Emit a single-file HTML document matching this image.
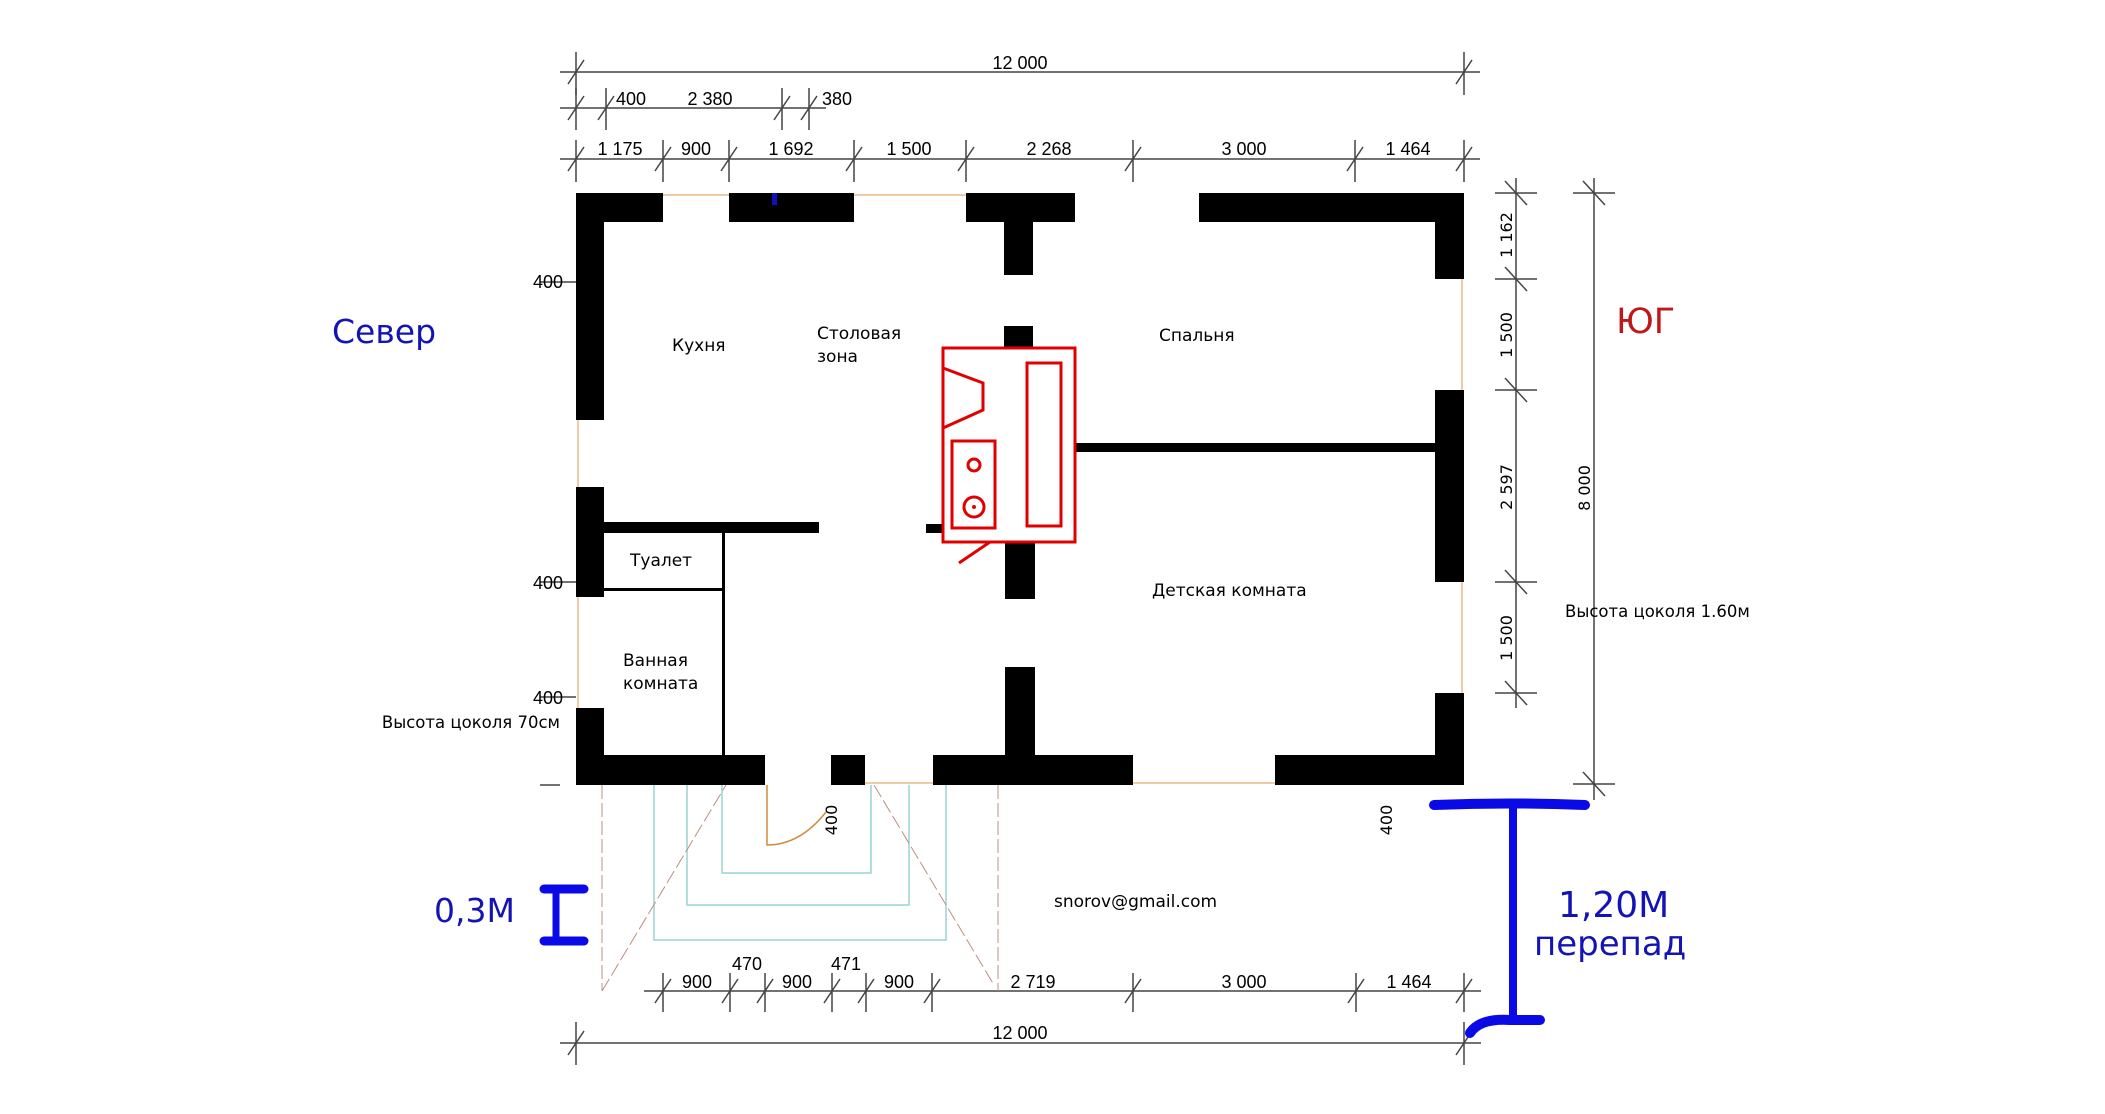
<!DOCTYPE html>
<html><head><meta charset="utf-8"><style>
html,body{margin:0;padding:0;background:#fff;}
svg{display:block;}
.d{font-family:"Liberation Sans Narrow","Liberation Sans",sans-serif;font-size:18px;fill:#000;text-anchor:middle;}
.r{font-family:"DejaVu Sans","Liberation Sans",sans-serif;font-size:17px;fill:#000;}
.b{font-family:"DejaVu Sans","Liberation Sans",sans-serif;fill:#1414b4;}
</style></head><body>
<svg width="2105" height="1114" viewBox="0 0 2105 1114" xmlns="http://www.w3.org/2000/svg">
<rect width="2105" height="1114" fill="#fff"/>
<g stroke="#444" stroke-width="1.5" fill="none">
<!-- row1 -->
<line x1="560" y1="72" x2="1480" y2="72"/>
<path d="M576 52V95M1464 52V95M568 84L584 60M1456 84L1472 60"/>
<!-- row2 -->
<line x1="560" y1="108" x2="826" y2="108"/>
<path d="M576 88V130M606 88V130M782 88V130M809 88V130M568 120L584 96M598 120L614 96M774 120L790 96M801 120L817 96"/>
<!-- row3 -->
<line x1="560" y1="159" x2="1480" y2="159"/>
<path d="M576 140V182M663 140V182M729 140V182M854 140V182M966 140V182M1133 140V182M1355 140V182M1464 140V182
M568 171L584 147M655 171L671 147M721 171L737 147M846 171L862 147M958 171L974 147M1125 171L1141 147M1347 171L1363 147M1456 171L1472 147"/>
<!-- right dims -->
<line x1="1516" y1="178" x2="1516" y2="708"/>
<path d="M1495 193H1537M1495 279H1537M1495 390H1537M1495 582H1537M1495 693H1537
M1505 181L1527 205M1505 267L1527 291M1505 378L1527 402M1505 570L1527 594M1505 681L1527 705"/>
<line x1="1594" y1="178" x2="1594" y2="800"/>
<path d="M1573 193H1615M1573 784H1615M1583 181L1605 205M1583 772L1605 796"/>
<!-- bottom row -->
<line x1="644" y1="991" x2="1481" y2="991"/>
<path d="M663 973V1012M730 973V1012M765 973V1012M832 973V1012M866 973V1012M932 973V1012M1133 973V1012M1356 973V1012M1464 973V1012
M655 1003L671 979M722 1003L738 979M757 1003L773 979M824 1003L840 979M858 1003L874 979M924 1003L940 979M1125 1003L1141 979M1348 1003L1364 979M1456 1003L1472 979"/>
<line x1="560" y1="1043" x2="1481" y2="1043"/>
<path d="M576 1022V1065M1464 1022V1065M568 1055L584 1031M1456 1055L1472 1031"/>
<!-- left small ticks -->
<path d="M540 282H580M540 582H580M540 697H580M540 785H560"/>
</g>
<!-- dim labels -->
<text class="d" x="1020" y="69">12 000</text>
<text class="d" x="631" y="105">400</text>
<text class="d" x="710" y="105">2 380</text>
<text class="d" x="837" y="105">380</text>
<text class="d" x="620" y="155">1 175</text>
<text class="d" x="696" y="155">900</text>
<text class="d" x="791" y="155">1 692</text>
<text class="d" x="909" y="155">1 500</text>
<text class="d" x="1049" y="155">2 268</text>
<text class="d" x="1244" y="155">3 000</text>
<text class="d" x="1408" y="155">1 464</text>
<text class="d" x="548" y="288">400</text>
<text class="d" x="548" y="589">400</text>
<text class="d" x="548" y="704">400</text>
<g class="d" font-family="DejaVu Sans">
<text transform="translate(1512,235) rotate(-90)" style="font-family:'DejaVu Sans',sans-serif;font-size:16px">1 162</text>
<text transform="translate(1512,335) rotate(-90)" style="font-family:'DejaVu Sans',sans-serif;font-size:16px">1 500</text>
<text transform="translate(1512,487) rotate(-90)" style="font-family:'DejaVu Sans',sans-serif;font-size:16px">2 597</text>
<text transform="translate(1512,638) rotate(-90)" style="font-family:'DejaVu Sans',sans-serif;font-size:16px">1 500</text>
<text transform="translate(1590,488) rotate(-90)" style="font-family:'DejaVu Sans',sans-serif;font-size:16px">8 000</text>
<text transform="translate(837,820) rotate(-90)" style="font-family:'DejaVu Sans',sans-serif;font-size:16px">400</text>
<text transform="translate(1392,820) rotate(-90)" style="font-family:'DejaVu Sans',sans-serif;font-size:16px">400</text>
</g>
<text class="d" x="697" y="988">900</text>
<text class="d" x="747" y="970">470</text>
<text class="d" x="797" y="988">900</text>
<text class="d" x="846" y="970">471</text>
<text class="d" x="899" y="988">900</text>
<text class="d" x="1033" y="988">2 719</text>
<text class="d" x="1244" y="988">3 000</text>
<text class="d" x="1409" y="988">1 464</text>
<text class="d" x="1020" y="1039">12 000</text>

<!-- stairs -->
<g fill="none" stroke="#9cd4d4" stroke-width="1.5">
<path d="M654 785V940H946V785"/>
<path d="M687 785V905H909V785"/>
<path d="M722 785V873H871V785"/>
</g>
<g fill="none" stroke="#b89080" stroke-width="1" stroke-dasharray="14 4">
<path d="M602 785V991M998 785V991M602 991L726 785M874 785L994 985"/>
</g>
<path d="M767 785V845Q800 845 826 812" fill="none" stroke="#d08a40" stroke-width="1.5"/>

<!-- walls -->
<rect x="576" y="193" width="888" height="592" fill="#000"/>
<rect x="604" y="222" width="831" height="533" fill="#fff"/>
<g fill="#fff">
<rect x="663" y="193" width="66" height="29"/>
<rect x="854" y="193" width="112" height="29"/>
<rect x="1075" y="193" width="124" height="29"/>
<rect x="576" y="420" width="28" height="67"/>
<rect x="576" y="597" width="28" height="111"/>
<rect x="1435" y="279" width="29" height="111"/>
<rect x="1435" y="582" width="29" height="111"/>
<rect x="765" y="755" width="66" height="30"/>
<rect x="865" y="755" width="68" height="30"/>
<rect x="1133" y="755" width="142" height="30"/>
</g>
<g stroke="#e8b888" stroke-width="1.5" fill="none">
<path d="M663 195H729M854 195H966M578 420V487M578 597V708M1462 279V390M1462 582V693M865 783H933M1133 783H1275"/>
</g>
<rect x="772" y="193" width="5" height="12" fill="#1010c0"/>
<!-- interior -->
<g fill="#000">
<rect x="1004" y="222" width="29" height="53"/>
<rect x="1004" y="326" width="29" height="22"/>
<rect x="1005" y="542" width="30" height="57"/>
<rect x="1005" y="667" width="30" height="88"/>
<rect x="1075" y="443" width="360" height="9"/>
<rect x="604" y="522" width="215" height="11"/>
<rect x="926" y="524" width="16" height="9"/>
<rect x="604" y="588" width="119" height="3"/>
<rect x="722" y="533" width="3" height="222"/>
</g>
<!-- red stove -->
<g fill="none" stroke="#e00000" stroke-width="3">
<rect x="943" y="348" width="132" height="194"/>
<rect x="1027" y="363" width="34" height="163"/>
<rect x="952" y="441" width="43" height="87"/>
<circle cx="974" cy="465" r="6"/>
<circle cx="974" cy="507" r="10"/>
<path d="M943 368L983 383V410L943 428"/>
<path d="M990 542L959 563"/>
</g>
<circle cx="974" cy="507" r="2" fill="#e00000"/>

<!-- room labels -->
<text class="r" x="672" y="351">Кухня</text>
<text class="r" x="817" y="339">Столовая</text>
<text class="r" x="817" y="362">зона</text>
<text class="r" x="1159" y="341">Спальня</text>
<text class="r" x="630" y="566">Туалет</text>
<text class="r" x="1152" y="596">Детская комната</text>
<text class="r" x="623" y="666">Ванная</text>
<text class="r" x="623" y="689">комната</text>
<text class="r" x="1054" y="907">snorov@gmail.com</text>
<text class="r" x="1565" y="617" style="font-size:16.5px">Высота цоколя 1.60м</text>
<text class="r" x="560" y="728" text-anchor="end" style="font-size:16.5px">Высота цоколя 70см</text>

<text class="b" x="332" y="343" style="font-size:33px">Север</text>
<text x="1616" y="333" style="font-family:'DejaVu Sans',sans-serif;font-size:35px;fill:#c01818">ЮГ</text>
<text class="b" x="434" y="922" style="font-size:33px">0,3М</text>
<text class="b" x="1558" y="917" style="font-size:36px">1,20М</text>
<text class="b" x="1534" y="955" style="font-size:34px">перепад</text>

<!-- blue markers -->
<g stroke="#0a0ae6" stroke-linecap="round" fill="none">
<path d="M556 890V940" stroke-width="7"/>
<path d="M544 889H584M544 941H584" stroke-width="9"/>
<path d="M1434 805Q1510 802 1585 805" stroke-width="10"/>
<path d="M1513 805V1020" stroke-width="8"/>
<path d="M1470 1033Q1480 1018 1510 1020H1540" stroke-width="10"/>
</g>
</svg>
</body></html>
